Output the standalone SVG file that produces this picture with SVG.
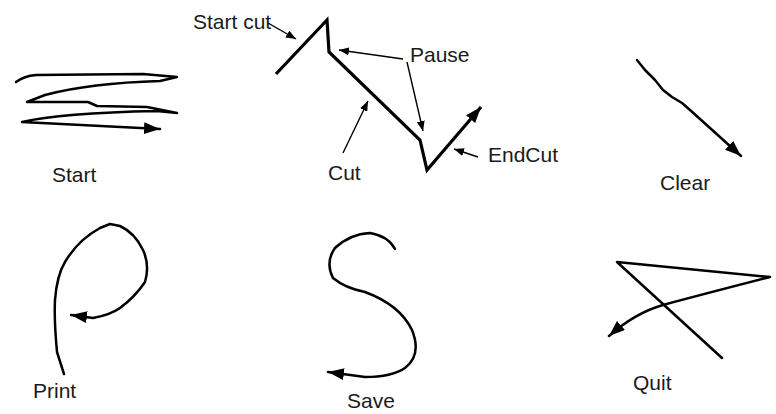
<svg xmlns="http://www.w3.org/2000/svg" width="776" height="414" viewBox="0 0 776 414">
<style>
text{font-family:"Liberation Sans",Arial,sans-serif;font-size:21px;fill:#1a1a1a}
.g{fill:none;stroke:#000;stroke-width:2.5;stroke-linejoin:round;stroke-linecap:round}
.cut{fill:none;stroke:#000;stroke-width:3.2;stroke-linejoin:miter;stroke-linecap:butt}
.a{fill:none;stroke:#000;stroke-width:1.4}
</style>
<defs>
<marker id="big" markerWidth="18" markerHeight="12" refX="16" refY="6" orient="auto" markerUnits="userSpaceOnUse"><path d="M0,0 L16,6 L0,12 Z" fill="#000"/></marker>
<marker id="sm" markerWidth="11" markerHeight="8" refX="10" refY="4" orient="auto" markerUnits="userSpaceOnUse"><path d="M0,0 L10,4 L0,8 Z" fill="#000"/></marker>
</defs>
<rect width="776" height="414" fill="#fff"/>
<g id="start">
<path class="g" marker-end="url(#big)" d="M16,82 Q24,76 36,75 L143,74 L177,77 L160,81 Q90,83 45,95 L27,102 L88,102 L97,106 L147,107 L177,113 L157,111 Q60,113 22,122 L160,129"/>
<text x="52" y="182">Start</text>
</g>
<g id="cutgesture">
<path class="cut" marker-end="url(#big)" d="M276,74 L327,20 L329,52 L420,140 L427,170 L481,107"/>
<text x="193" y="29">Start cut</text>
<text x="410" y="62">Pause</text>
<text x="328" y="180">Cut</text>
<text x="488" y="162">EndCut</text>
</g>
<g id="clear">
<path class="g" marker-end="url(#big)" d="M637,60 L645,70 L655,80 L663,90 L672,97 L682,103 L690,110 L700,119 L741,156"/>
<text x="660" y="190">Clear</text>
</g>
<g id="print">
<path class="g" marker-end="url(#big)" d="M64,374 L57,352 Q54,320 55,300 Q57,275 65,262 Q78,240 100,228 L110,224 L120,226 Q135,233 143,250 Q150,265 145,282 Q135,297 120,308 Q110,315 93,318 L71,315"/>
<text x="33" y="398">Print</text>
</g>
<g id="save">
<path class="g" marker-end="url(#big)" d="M395,249 Q388,236 370,233 Q350,234 335,248 Q325,262 333,278 Q345,288 365,292 Q400,305 412,330 Q422,355 405,368 Q392,377 365,377 L328,372"/>
<text x="347" y="408">Save</text>
</g>
<g id="quit">
<path class="g" marker-end="url(#big)" d="M722,358 L617,262 L770,277 Q700,295 663,305 Q635,313 609,336"/>
<text x="633" y="390">Quit</text>
</g>
<g id="connectors">
<path class="a" marker-end="url(#sm)" d="M268,23 L296,39"/>
<path class="a" marker-end="url(#sm)" d="M403,59 L339,50"/>
<path class="a" marker-end="url(#sm)" d="M407,62 L423,131"/>
<path class="a" marker-end="url(#sm)" d="M343,153 L368,101"/>
<path class="a" marker-end="url(#sm)" d="M478,157 L454,149"/>
</g>
</svg>
